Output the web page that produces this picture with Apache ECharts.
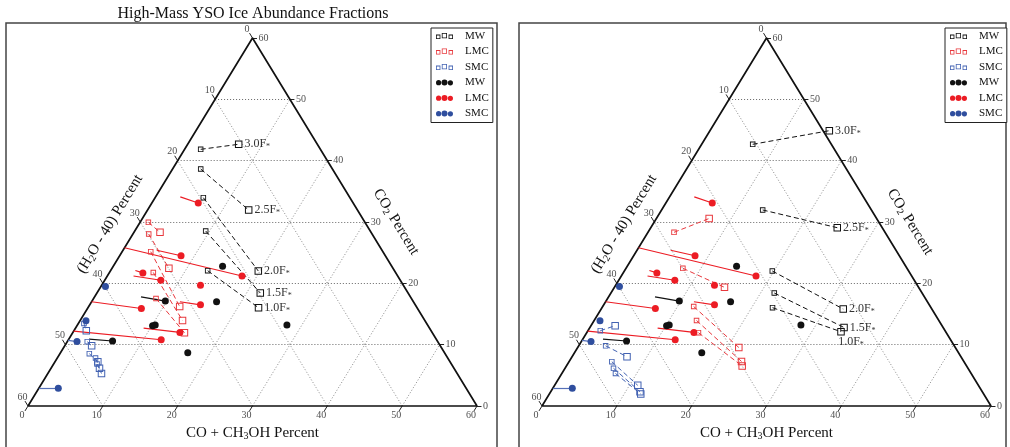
<!DOCTYPE html>
<html>
<head>
<meta charset="utf-8">
<script src="https://cdn.jsdelivr.net/npm/echarts@6/dist/echarts.min.js"></script>
<style>
html, body { margin: 0; padding: 0; background: #fff; }
#main { width: 1010px; height: 447px; }
</style>
</head>
<body>
<div id="main"></div>
<script>
var ticks = [0, 10, 20, 30, 40, 50, 60];
var fLabels = ['3.0', '2.5', '2.0', '1.5', '1.0'];

// every point is [CO + CH3OH, CO2]; (H2O - 40) is what is left of 60
var mwSrc = [[14.6, 22.8], [9.8, 17.1], [16.7, 17.0], [10.1, 13.1], [10.4, 13.2], [28.0, 13.2], [6.0, 10.6], [17.0, 8.7]];
var mwTail = [null, [6.2, 17.8], null, null, null, null, [2.7, 10.9], null];
var lmcSrc = [[6.2, 33.1], [8.2, 24.5], [18.0, 21.2], [4.5, 21.7], [7.5, 20.5], [13.2, 19.7], [14.8, 16.5], [7.2, 15.9], [14.3, 12.0], [12.4, 10.8]];
var lmcTail = [[3.3, 34.1], [4.5, 25.4], [0, 25.8], [3.3, 22.1], [3.5, 21.2], null, [11.8, 17.0], [0, 17.0], [9.1, 12.7], [0, 12.2]];
var smcSrc = [[0.6, 19.5], [0.8, 13.9], [1.3, 10.5], [2.6, 2.9]];
var smcTail = [null, null, [0, 10.7], [0, 2.9]];

// model tracks: left panel goes start -> mid, right panel mid -> end
var mwStart = [[2.15, 41.85], [3.76, 38.64], [6.45, 33.96], [9.48, 28.53], [12.98, 22.06]];
var mwMid = [[6.82, 42.67], [13.51, 31.96], [19.77, 22.01], [21.83, 18.42], [22.79, 16.03]];
var mwEnd = [[15.95, 44.89], [24.92, 29.07], [32.35, 15.81], [33.96, 12.80], [33.90, 12.11]];
var lmcStart = [[1.11, 29.95], [2.11, 28.04], [3.82, 25.16], [5.86, 21.77], [8.34, 17.53]];
var lmcMid = [[3.48, 28.32], [7.60, 22.45], [12.16, 16.22], [13.68, 13.94], [14.93, 11.95]];
var lmcEnd = [[7.05, 30.57], [14.71, 19.35], [21.53, 9.54], [23.03, 7.26], [23.49, 6.52]];
var smcStart = [[0.75, 13.45], [2.68, 10.48], [3.93, 8.53], [5.11, 7.83], [5.80, 6.85]];
var smcMid = [[1.65, 12.28], [3.60, 9.81], [5.72, 7.22], [6.48, 6.15], [7.17, 5.30]];
var smcEnd = [[3.23, 13.09], [7.34, 8.04], [11.11, 3.37], [11.93, 2.33], [12.22, 1.96]];

var serif = 'Liberation Serif';
var BLACK = '#111', RED = '#ec1c24', BLUE = '#2f4e9e';
var RED_SQ = '#e8383d', BLUE_SQ = '#4262b2';

var smallSq = 'path://M0,0h5.5v5.5h-5.5z M0.9,0.9v3.7h3.7v-3.7z';
var bigSq = 'path://M0,0h7.5v7.5h-7.5z M1,1v5.5h5.5v-5.5z';
var sqIcon = 'path://M0,1.6h4.4v4.4h-4.4z M0.8,2.4v2.8h2.8v-2.8z M5.8,0h5.2v5.2h-5.2z M6.6,0.8v3.6h3.6v-3.6z M12.6,1.6h4.4v4.4h-4.4z M13.4,2.4v2.8h2.8v-2.8z';
var dotIcon = 'path://M0,3.2a2.6,2.6 0 1,0 5.2,0a2.6,2.6 0 1,0 -5.2,0z M5.5,3a3,3 0 1,0 6,0a3,3 0 1,0 -6,0z M11.8,3.3a2.6,2.6 0 1,0 5.2,0a2.6,2.6 0 1,0 -5.2,0z';

function xy(p) { return [p[0] + p[1] / 2, p[1]]; }
function seg(p, q) { return { coords: [xy(p), xy(q)] }; }

var hLines = [], dLines = [], tickSegs = [], leftLab = [], rightLab = [], bottomLab = [];
ticks.forEach(function (k) {
    if (k > 0 && k < 60) {
        hLines.push(seg([0, k], [60 - k, k]));
        dLines.push(seg([k, 0], [k, 60 - k]));
        dLines.push(seg([60 - k, 0], [0, 60 - k]));
    }
    var c = 60 - k;
    tickSegs.push(seg([0, c], [-0.8, c + 0.8]));
    leftLab.push({ value: xy([-1.45, c + 1.45]), name: String(k) });
    tickSegs.push(seg([60 - k, k], [60 - k + 0.6, k]));
    rightLab.push({ value: xy([60 - k + 0.6, k]), name: String(k) });
    tickSegs.push(seg([k, 0], [k, -0.8]));
    bottomLab.push({ value: xy([k, -1.6]), name: String(k) });
});

function tails(src, tail) {
    var out = [];
    src.forEach(function (p, i) { if (tail[i]) out.push(seg(p, tail[i])); });
    return out;
}
function tracks(a, b) { return a.map(function (p, i) { return seg(p, b[i]); }); }

function segSeries(data, style, z) {
    return { type: 'lines', coordinateSystem: 'cartesian2d', data: data, silent: true, clip: false,
             z: z, lineStyle: Object.assign({ opacity: 1, curveness: 0 }, style) };
}

function textSeries(data, pos, dist) {
    return {
        type: 'scatter', data: data, symbolSize: 1, silent: true, clip: false, z: 3,
        itemStyle: { color: 'rgba(0,0,0,0)' },
        label: { show: true, position: pos, distance: dist, formatter: '{b}',
                 fontFamily: serif, fontSize: 10, color: '#222' }
    };
}

function panel(g) {
    var ax = { xAxisIndex: g, yAxisIndex: g };
    var from = g ? [mwMid, lmcMid, smcMid] : [mwStart, lmcStart, smcStart];
    var to = g ? [mwEnd, lmcEnd, smcEnd] : [mwMid, lmcMid, smcMid];
    var cols = [BLACK, RED_SQ, BLUE_SQ];
    var names = ['MW', 'LMC', 'SMC'];
    var out = [];
    function add(s) { out.push(Object.assign(s, ax)); }

    add(segSeries(dLines, { color: '#8a8a8a', width: 1, type: [1, 2] }, 1));
    add(segSeries(hLines, { color: '#666', width: 1, type: [1, 2] }, 1));
    add(segSeries(tickSegs, { color: '#222', width: 1 }, 2));
    add({ type: 'line', data: [[0, 0], [60, 0], [0, 60], [0, 0]].map(xy), symbol: 'none', silent: true,
          clip: false, z: 3, lineStyle: { color: '#111', width: 1.7 } });
    add(textSeries(leftLab, 'inside', 0));
    add(textSeries(rightLab, 'right', 1));
    add(textSeries(bottomLab, 'inside', 0));

    // model tracks
    for (var i = 0; i < 3; i++) {
        add(segSeries(tracks(from[i], to[i]), { color: cols[i], width: 1, type: [5, 3] }, 4));
        var sq = from[i].map(function (p) { return { value: xy(p), symbol: smallSq, symbolSize: 5.5 }; });
        to[i].forEach(function (p, j) {
            var item = { value: xy(p), symbol: bigSq, symbolSize: 7.5 };
            if (i === 0) {
                var below = g === 1 && j === 4;
                item.label = {
                    show: true, position: below ? 'bottom' : 'right', distance: below ? 1 : 2,
                    offset: below ? [10, -2] : [0, 0],
                    formatter: '{a|' + fLabels[j] + 'F}{s|*}',
                    rich: { a: { fontFamily: serif, fontSize: 12, color: '#333', lineHeight: 14 },
                            s: { fontFamily: serif, fontSize: 8, color: '#333', padding: [6, 0, 0, 0] } }
                };
            }
            sq.push(item);
        });
        add({ type: 'scatter', name: names[i] + ' models', data: sq, clip: false, z: 5,
              itemStyle: { color: cols[i], opacity: 1 } });
    }

    // observed sources
    var srcs = [[mwSrc, mwTail, BLACK, BLACK], [lmcSrc, lmcTail, RED, RED], [smcSrc, smcTail, BLUE, '#5570b8']];
    srcs.forEach(function (s, i) {
        add(segSeries(tails(s[0], s[1]), { color: s[3], width: 1.2 }, 4));
        add({ type: 'scatter', name: names[i] + ' sources', data: s[0].map(xy), symbol: 'circle',
              symbolSize: 7, clip: false, z: 6, itemStyle: { color: s[2], opacity: 1 } });
    });
    return out;
}

var legendData = [
    { name: 'MW models', icon: sqIcon }, { name: 'LMC models', icon: sqIcon }, { name: 'SMC models', icon: sqIcon },
    { name: 'MW sources', icon: dotIcon }, { name: 'LMC sources', icon: dotIcon }, { name: 'SMC sources', icon: dotIcon }
];

function titles(dx) {
    var font = { fontFamily: serif, fontSize: 15, fill: '#111' };
    var sub = { fontFamily: serif, fontSize: 10, fill: '#111', padding: [7, 0, 0, 0] };
    var rich = { a: Object.assign({ lineHeight: 18 }, font), s: sub };
    return [
        { type: 'text', x: 252.5 + dx, y: 433, silent: true,
          style: { text: '{a|CO + CH}{s|3}{a|OH Percent}', rich: rich, align: 'center', verticalAlign: 'middle' } },
        { type: 'text', x: 110 + dx, y: 224, rotation: 58.6 * Math.PI / 180, silent: true,
          style: { text: '{a|(H}{s|2}{a|O - 40) Percent}', rich: rich, align: 'center', verticalAlign: 'middle' } },
        { type: 'text', x: 396 + dx, y: 222, rotation: -58.6 * Math.PI / 180, silent: true,
          style: { text: '{a|CO}{s|2}{a| Percent}', rich: rich, align: 'center', verticalAlign: 'middle' } }
    ];
}

var myChart = echarts.init(document.getElementById('main'), null, { renderer: 'canvas' });
var option = {
    backgroundColor: '#fff',
    animation: false,
    grid: [
        { left: 28, top: 38, width: 449, height: 368 },
        { left: 542, top: 38, width: 449, height: 368 }
    ],
    xAxis: [0, 1].map(function (g) { return { type: 'value', gridIndex: g, min: 0, max: 60, show: false }; }),
    yAxis: [0, 1].map(function (g) { return { type: 'value', gridIndex: g, min: 0, max: 60, show: false }; }),
    legend: [431, 945].map(function (x) {
        return {
            left: x, top: 28, orient: 'vertical', itemWidth: 17, itemHeight: 6, itemGap: 3.5,
            padding: [2, 4, 3, 5], borderColor: '#222', borderWidth: 1, backgroundColor: '#fff',
            textStyle: { fontFamily: serif, fontSize: 11, color: '#111', lineHeight: 12, padding: [0, 0, 0, 7] },
            data: legendData,
            formatter: function (n) { return n.split(' ')[0]; }
        };
    }),
    graphic: [
        { type: 'rect', shape: { x: 6, y: 23, width: 491, height: 440 }, silent: true,
          style: { fill: 'none', stroke: '#444', lineWidth: 1.5 } },
        { type: 'rect', shape: { x: 519, y: 23, width: 487, height: 440 }, silent: true,
          style: { fill: 'none', stroke: '#444', lineWidth: 1.5 } },
        { type: 'text', x: 253, y: 14, silent: true,
          style: { text: 'High-Mass YSO Ice Abundance Fractions', fontFamily: serif, fontSize: 16,
                   fill: '#111', align: 'center', verticalAlign: 'middle' } }
    ].concat(titles(0), titles(514)),
    series: panel(0).concat(panel(1))
};
myChart.setOption(option);
</script>
</body>
</html>
